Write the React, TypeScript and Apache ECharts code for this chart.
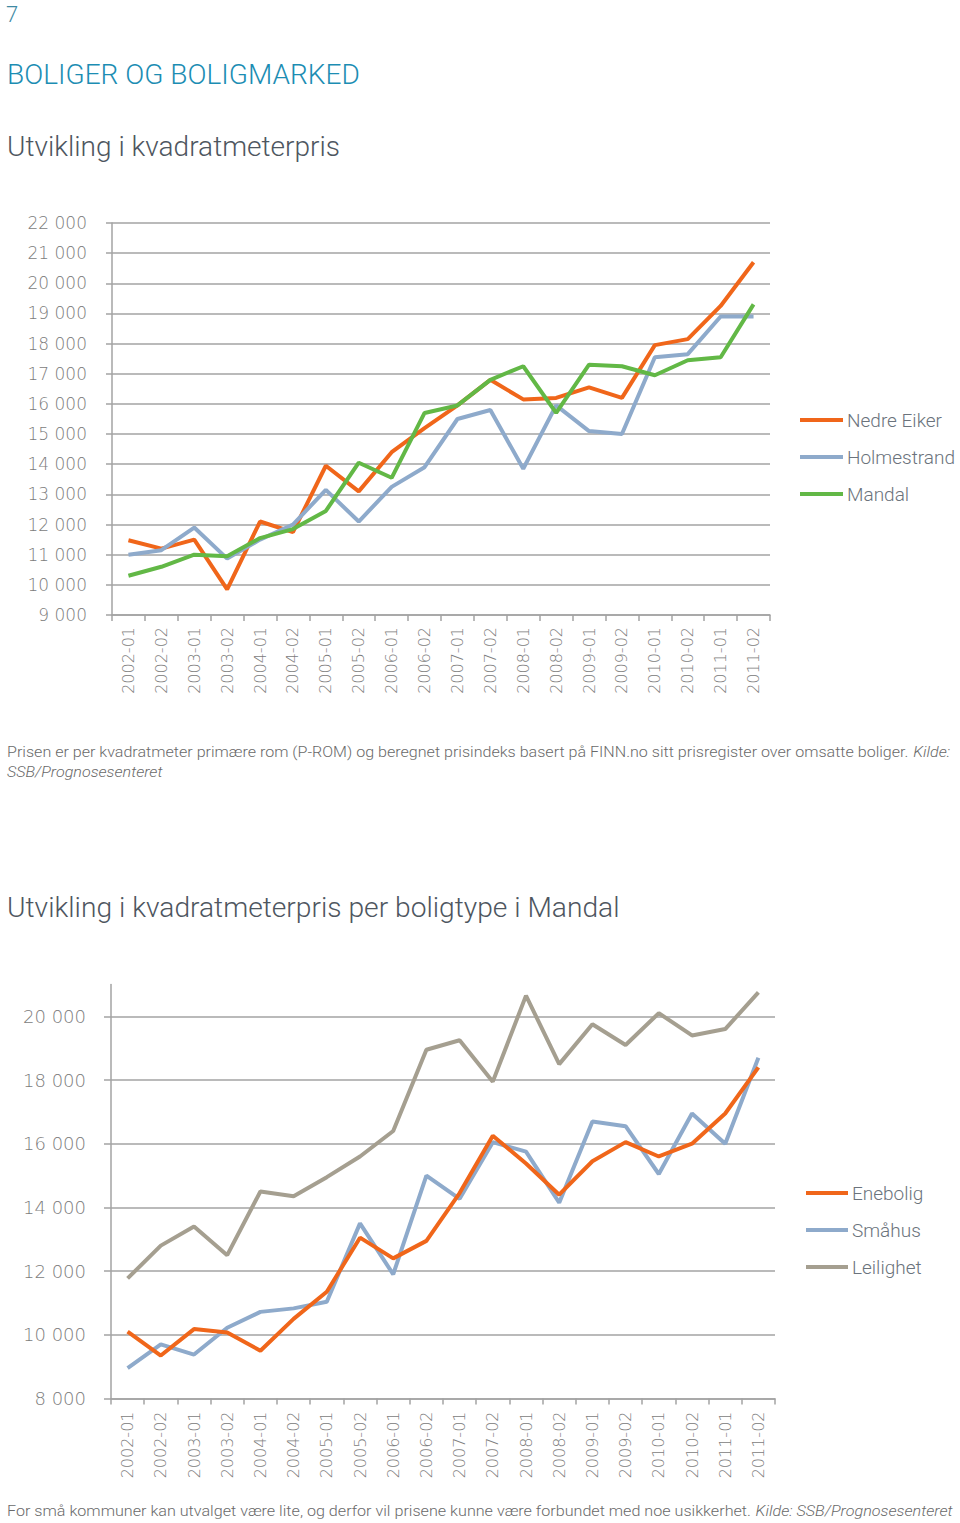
import React, { useEffect, useRef } from "react";
import * as echarts from "echarts";

const periods = [
  "2002-01", "2002-02", "2003-01", "2003-02", "2004-01", "2004-02", "2005-01", "2005-02",
  "2006-01", "2006-02", "2007-01", "2007-02", "2008-01", "2008-02", "2009-01", "2009-02",
  "2010-01", "2010-02", "2011-01", "2011-02",
];

// Chart 1: price per m2
const nedreEiker = [11480, 11200, 11500, 9850, 12100, 11750, 13950, 13100, 14400, 15200,
  15950, 16800, 16150, 16200, 16550, 16200, 17950, 18150, 19250, 20700];
const holmestrand = [11000, 11150, 11900, 10870, 11500, 12000, 13150, 12100, 13250, 13900,
  15500, 15800, 13850, 15950, 15100, 15000, 17550, 17650, 18900, 18900];
const mandal = [10300, 10600, 11000, 10950, 11550, 11850, 12450, 14050, 13550, 15700,
  15950, 16800, 17250, 15700, 17300, 17250, 16950, 17450, 17550, 19300];

// Chart 2: Mandal per housing type
const enebolig = [10100, 9350, 10180, 10070, 9500, 10500, 11350, 13050, 12400, 12950,
  14450, 16250, 15380, 14400, 15450, 16050, 15600, 16000, 16950, 18400];
const smahus = [8950, 9700, 9380, 10220, 10720, 10830, 11040, 13500, 11900, 15000,
  14270, 16050, 15750, 14150, 16700, 16550, 15050, 16950, 16000, 18700];
const leilighet = [11770, 12800, 13400, 12500, 14500, 14350, 14950, 15600, 16400, 18950,
  19250, 17950, 20650, 18500, 19750, 19100, 20100, 19400, 19600, 20750];

const ORANGE = "#f0661a";
const BLUE = "#8eaacb";
const GREEN = "#62b846";
const GRAY = "#a59f90";

const AXIS_FONT = "'DejaVu Sans', sans-serif";
const TEXT_FONT = "Roboto, 'Noto Sans', sans-serif";
const TEXT_WEIGHT = 300;
const GRID_COLOR = "#a3a3a3";

function measure(text: string, font: string): number {
  const c = document.createElement("canvas").getContext("2d")!;
  c.font = font;
  return c.measureText(text).width;
}

function fitScale(parts: { text: string; italic?: boolean }[], size: number, target: number): number {
  let w = 0;
  for (const p of parts) {
    w += measure(p.text, `${p.italic ? "italic " : ""}${TEXT_WEIGHT} ${size}px Roboto`);
  }
  return w > 0 ? target / w : 1;
}

const thousands = (v: number) => `${Math.round(v / 1000)} 000`;

export default function App() {
  const ref = useRef<HTMLDivElement>(null);

  useEffect(() => {
    if (!ref.current) return;
    const chart = echarts.init(ref.current, undefined, { renderer: "svg" });

    const t1 = "BOLIGER OG BOLIGMARKED";
    const t2 = "Utvikling i kvadratmeterpris";
    const t3 = "Utvikling i kvadratmeterpris per boligtype i Mandal";
    const f1a = "Prisen er per kvadratmeter primære rom (P-ROM) og beregnet prisindeks basert på FINN.no sitt prisregister over omsatte boliger. ";
    const f1b = "Kilde:";
    const f1c = "SSB/Prognosesenteret";
    const f2a = "For små kommuner kan utvalget være lite, og derfor vil prisene kunne være forbundet med noe usikkerhet. ";
    const f2b = "Kilde: SSB/Prognosesenteret";

    const s1 = fitScale([{ text: t1 }], 28, 353);
    const s2 = fitScale([{ text: t2 }], 28, 333);
    const s3 = fitScale([{ text: t3 }], 28, 613);
    const sf1 = fitScale([{ text: f1a }, { text: f1b, italic: true }], 15.5, 943);
    const sf2 = fitScale([{ text: f2a }, { text: f2b, italic: true }], 15.5, 946);

    const txt = (x: number, y: number, text: string, size: number, fill: string, scaleX = 1, extra: any = {}) => ({
      type: "text",
      x,
      y,
      scaleX,
      silent: true,
      style: {
        text, fontSize: size, fontFamily: TEXT_FONT, fontWeight: TEXT_WEIGHT, fill,
        verticalAlign: "middle", align: "left", ...extra,
      },
    });

    const lineSeries = (name: string, data: number[], color: string, idx: number) => ({
      name,
      type: "line",
      data,
      xAxisIndex: idx,
      yAxisIndex: idx,
      symbol: "none",
      color,
      lineStyle: { color, width: 4 },
      emphasis: { disabled: true },
    });

    const xAxisBase = (gridIndex: number, margin: number) => ({
      gridIndex,
      type: "category",
      data: periods,
      boundaryGap: true,
      axisLine: { lineStyle: { color: GRID_COLOR, width: 1.5 } },
      axisTick: { show: true, length: 6, lineStyle: { color: GRID_COLOR, width: 1.5 } },
      axisLabel: { rotate: 90, margin, interval: 0, fontSize: 16, fontFamily: AXIS_FONT, fontWeight: 200, color: "#7c7c7c" },
    });

    const gridColors2 = [GRID_COLOR, GRID_COLOR, GRID_COLOR, GRID_COLOR, GRID_COLOR, GRID_COLOR, GRID_COLOR, "rgba(0,0,0,0)"];

    const legendText = {
      fontSize: 19, color: "#6b737c", fontFamily: TEXT_FONT, fontWeight: TEXT_WEIGHT,
      lineHeight: 22, padding: [0, 0, 0, -1],
    };

    const italicRich = { i: { fontStyle: "italic", fontSize: 15.5, fontFamily: TEXT_FONT, fontWeight: TEXT_WEIGHT, fill: "#6a6a6a" } };

    chart.setOption({
      animation: false,
      backgroundColor: "#ffffff",
      textStyle: { fontFamily: TEXT_FONT },
      graphic: [
        txt(6, 14, "7", 22, "#3f8aa3"),
        txt(7, 75, t1, 28, "#1c8db3", s1),
        txt(7, 147, t2, 28, "#4e5660", s2),
        txt(7, 752, `${f1a}{i|${f1b}}`, 15.5, "#6a6a6a", sf1, { rich: italicRich }),
        txt(7, 772, f1c, 15.5, "#6a6a6a", sf1, { fontStyle: "italic" }),
        txt(7, 908, t3, 28, "#4e5660", s3),
        txt(7, 1511, `${f2a}{i|${f2b}}`, 15.5, "#6a6a6a", sf2, { rich: italicRich }),
      ],
      legend: [
        {
          orient: "vertical",
          left: 800,
          top: 409,
          padding: 0,
          itemWidth: 43,
          itemHeight: 4,
          itemGap: 15,
          icon: "rect",
          selectedMode: false,
          textStyle: legendText,
          data: ["Nedre Eiker", "Holmestrand", "Mandal"],
        },
        {
          orient: "vertical",
          left: 806,
          top: 1182,
          padding: 0,
          itemWidth: 42,
          itemHeight: 4,
          itemGap: 15,
          icon: "rect",
          selectedMode: false,
          textStyle: legendText,
          data: ["Enebolig", "Småhus", "Leilighet"],
        },
      ],
      grid: [
        { left: 112, top: 223, width: 658, height: 392 },
        { left: 111, top: 984.5, width: 664, height: 414 },
      ],
      xAxis: [xAxisBase(0, 12), xAxisBase(1, 13)],
      yAxis: [
        {
          gridIndex: 0,
          type: "value",
          min: 9000,
          max: 22000,
          interval: 1000,
          axisLine: { show: true, lineStyle: { color: GRID_COLOR, width: 1.5 } },
          axisTick: { show: true, length: 6, lineStyle: { color: GRID_COLOR, width: 1.5 } },
          splitLine: { lineStyle: { color: GRID_COLOR, width: 1.5 } },
          axisLabel: { margin: 25, fontSize: 17, fontFamily: AXIS_FONT, fontWeight: 200, color: "#7c7c7c", formatter: thousands },
        },
        {
          gridIndex: 1,
          type: "value",
          min: 8000,
          max: 21000,
          interval: 2000,
          axisLine: { show: true, lineStyle: { color: GRID_COLOR, width: 1.5 } },
          axisTick: { show: true, length: 7, lineStyle: { color: GRID_COLOR, width: 1.5 } },
          splitLine: { lineStyle: { color: gridColors2, width: 1.5 } },
          axisLabel: { margin: 25, fontSize: 18, fontFamily: AXIS_FONT, fontWeight: 200, color: "#7c7c7c", showMaxLabel: false, formatter: thousands },
        },
      ],
      series: [
        lineSeries("Nedre Eiker", nedreEiker, ORANGE, 0),
        lineSeries("Holmestrand", holmestrand, BLUE, 0),
        lineSeries("Mandal", mandal, GREEN, 0),
        lineSeries("Leilighet", leilighet, GRAY, 1),
        lineSeries("Småhus", smahus, BLUE, 1),
        lineSeries("Enebolig", enebolig, ORANGE, 1),
      ],
    });

    return () => chart.dispose();
  }, []);

  return (
    <div
      ref={ref}
      style={{ position: "absolute", left: 0, top: 0, width: 960, height: 1523, background: "#fff" }}
    />
  );
}
